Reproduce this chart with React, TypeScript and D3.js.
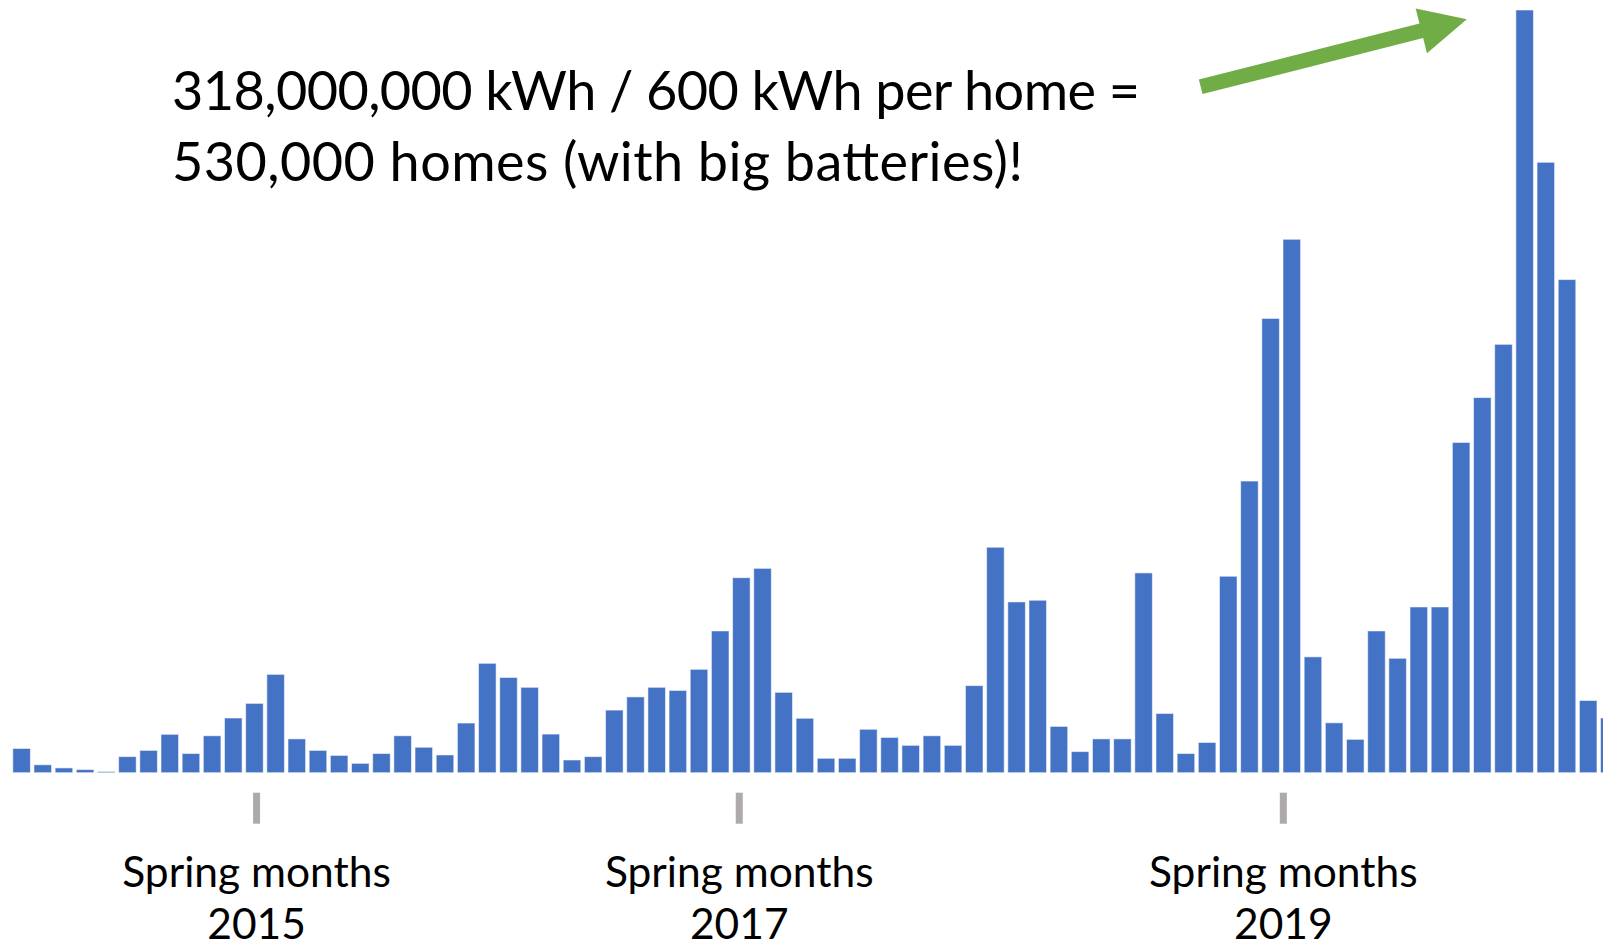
import React, { useEffect, useRef } from "react";
import * as d3 from "d3";

// monthly curtailment, million kWh, May 2014 .. Aug 2020
const months = d3.timeMonth.range(new Date(2014, 4, 1), new Date(2020, 8, 1));
const values2014 = [10.1, 3.3, 2.0, 1.3, 0.5, 6.7, 9.3, 16.0]; // May-Dec
const values2015 = [8.0, 15.4, 22.8, 28.9, 41.0, 14.1, 9.3, 7.2, 3.9, 8.0, 15.4, 10.6];
const values2016 = [7.4, 20.7, 45.6, 39.7, 35.6, 16.1, 5.3, 6.7, 26.1, 31.6, 35.6, 34.3];
const values2017 = [43.1, 59.1, 81.3, 85.2, 33.5, 22.7, 6.0, 6.0, 18.1, 14.7, 11.4, 15.4];
const values2018 = [11.4, 36.3, 94.0, 71.2, 71.9, 19.3, 8.8, 14.1, 14.1, 83.3, 24.7, 8.0];
const values2019 = [12.6, 81.9, 121.6, 189.4, 222.4, 48.3, 20.8, 13.9, 59.1, 47.7, 69.1, 69.1];
const values2020 = [137.7, 156.4, 178.6, 318.0, 254.5, 205.6, 30.1, 22.8];
const values = [...values2014, ...values2015, ...values2016, ...values2017, ...values2018, ...values2019, ...values2020];

// where the grey tick marks sit, in month index units
const springTickIdx = [11.1, 33.9, 59.6];
const springYears = ["2015", "2017", "2019"];

const noteLines = ["318,000,000 kWh / 600 kWh per home =", "530,000 homes (with big batteries)!"];
const noteWidths = [968, 851];

export default function App() {
  const svgRef = useRef<SVGSVGElement>(null);

  useEffect(() => {
    document.body.style.margin = "0";
    document.body.style.overflow = "hidden";
    const w = 1603;
    const h = 946;
    const base = 772.7;
    const svg = d3.select(svgRef.current).attr("width", w).attr("height", h);
    svg.selectAll("*").remove();

    const x = d3
      .scaleBand<number>()
      .domain(values.map((v, i) => i))
      .range([11, 11 + 21.17 * 76])
      .paddingInner(0.17)
      .paddingOuter(0.085);
    const y = d3.scaleLinear().domain([0, 318]).range([base, 10]);
    const center = d3
      .scaleLinear()
      .domain([0, values.length - 1])
      .range([x(0)! + x.bandwidth() / 2, x(values.length - 1)! + x.bandwidth() / 2]);

    svg
      .append("g")
      .selectAll("rect")
      .data(values)
      .join("rect")
      .attr("x", (v, i) => x(i)!)
      .attr("y", (v) => y(v))
      .attr("width", x.bandwidth())
      .attr("height", (v) => base - y(v))
      .attr("fill", "#4472C4")
      .attr("stroke", "#ffffff")
      .attr("stroke-opacity", 0.55)
      .attr("stroke-width", 1);

    // spring ticks + labels
    const tg = svg
      .append("g")
      .selectAll("g")
      .data(springTickIdx)
      .join("g")
      .attr("transform", (d) => `translate(${center(d)},0)`);
    tg.append("rect")
      .attr("x", -3.5)
      .attr("y", 792.7)
      .attr("width", 7)
      .attr("height", 31)
      .attr("fill", "#AEAAAA");
    tg.append("text")
      .attr("y", 887)
      .attr("text-anchor", "middle")
      .style("font-family", "Lato")
      .style("font-size", "42.5px")
      .attr("fill", "#000")
      .text("Spring months");
    tg.append("text")
      .attr("y", 939)
      .attr("text-anchor", "middle")
      .style("font-family", "Lato")
      .style("font-size", "42.5px")
      .attr("fill", "#000")
      .text((d, i) => springYears[i]);

    // annotation
    svg
      .append("g")
      .selectAll("text")
      .data(noteLines)
      .join("text")
      .attr("x", 172)
      .attr("y", (d, i) => 110.4 + i * 70.6)
      .attr("textLength", (d, i) => noteWidths[i])
      .attr("lengthAdjust", "spacing")
      .style("font-family", "Lato")
      .style("font-size", "54px")
      .attr("fill", "#000")
      .text((d) => d);

    // arrow toward the peak bar
    const peak = d3.maxIndex(values);
    const tip: [number, number] = [x(peak)! - 49, y(values[peak]) + 9.3];
    const tail: [number, number] = [1200.7, 86.7];
    const dx = tip[0] - tail[0];
    const dy = tip[1] - tail[1];
    const len = Math.hypot(dx, dy);
    const ux = dx / len;
    const uy = dy / len;
    const nx = -uy;
    const ny = ux;
    const headLen = 47;
    const headHalf = 23;
    const shaftHalf = 7.5;
    const bx = tip[0] - ux * headLen;
    const by = tip[1] - uy * headLen;
    const pts: [number, number][] = [
      [tail[0] + nx * shaftHalf, tail[1] + ny * shaftHalf],
      [bx + nx * shaftHalf, by + ny * shaftHalf],
      [bx + nx * headHalf, by + ny * headHalf],
      tip,
      [bx - nx * headHalf, by - ny * headHalf],
      [bx - nx * shaftHalf, by - ny * shaftHalf],
      [tail[0] - nx * shaftHalf, tail[1] - ny * shaftHalf],
    ];
    svg
      .append("path")
      .attr("d", d3.line()(pts) + "Z")
      .attr("fill", "#70AD47");
  }, []);

  return <svg ref={svgRef} style={{ position: "absolute", left: 0, top: 0, background: "#fff" }}></svg>;
}
